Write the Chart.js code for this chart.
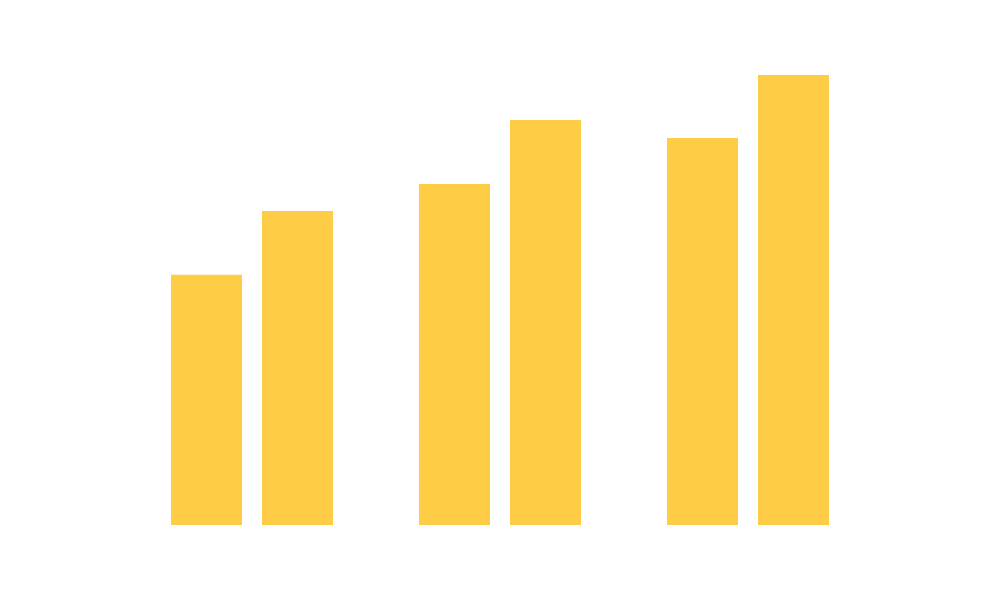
<!DOCTYPE html>
<html>
<head>
<meta charset="utf-8">
<script src="https://cdn.jsdelivr.net/npm/chart.js@4/dist/chart.umd.min.js"></script>
<style>
html,body{margin:0;padding:0;background:#fff;}
#wrap{width:1000px;height:600px;}
</style>
</head>
<body>
<div id="wrap"><canvas id="c" width="1000" height="600"></canvas></div>
<script>
const categories = ["A", "B", "C"];
const seriesA = [55.6, 75.8, 86.0];
const seriesB = [69.8, 90.0, 100.0];
const barColor = "#FECC45";

new Chart(document.getElementById("c"), {
  type: "bar",
  data: {
    labels: categories,
    datasets: [
      { data: seriesA, backgroundColor: barColor, borderWidth: 0, categoryPercentage: 0.734, barPercentage: 0.78 },
      { data: seriesB, backgroundColor: barColor, borderWidth: 0, categoryPercentage: 0.734, barPercentage: 0.78 }
    ]
  },
  options: {
    responsive: false,
    animation: false,
    layout: { padding: { left: 128, right: 128, top: 75, bottom: 75 } },
    plugins: { legend: { display: false }, tooltip: { enabled: false } },
    scales: {
      x: { display: false },
      y: { display: false, min: 0, max: 100 }
    }
  }
});
</script>
</body>
</html>
